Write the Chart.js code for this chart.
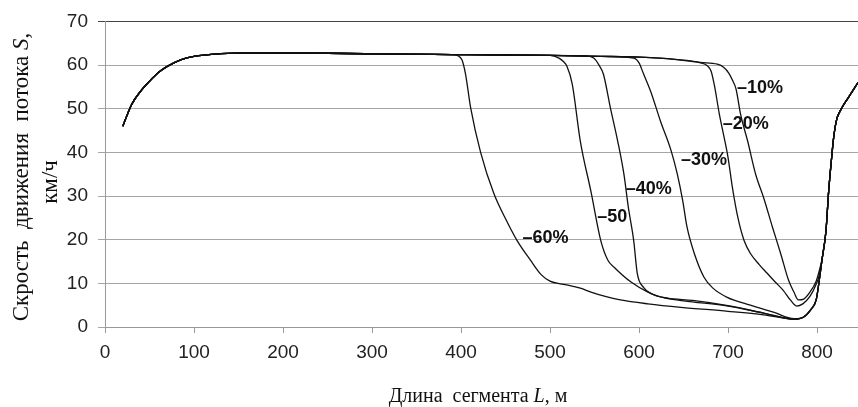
<!DOCTYPE html>
<html>
<head>
  <meta charset="utf-8">
  <title>Скорость движения потока</title>
  <style>
    body { margin: 0; background: #fff; }
    canvas { display: block; }
  </style>
</head>
<body>
  <canvas id="speedChart" width="858" height="407"></canvas>

  <script src="https://cdn.jsdelivr.net/npm/chart.js"></script>
  <script>
    // общий начальный участок (все кривые совпадают)
    const baseL = [20, 30, 40, 50, 60, 70, 85, 100, 130, 170, 250, 330, 390];
    const baseS = [46, 51, 54, 56.3, 58.3, 59.7, 61.2, 62, 62.6, 62.8, 62.7, 62.5, 62.4];

    // общий участок разгона в конце сегмента
    const endL = [806, 810, 813, 816, 819, 822, 826, 835, 846];
    const endS = [16, 22, 31, 38, 44, 47.5, 49.5, 52.5, 56];

    const l60 = [396, 401, 405, 411, 422, 437, 452, 463, 478, 490, 500, 520, 534, 546, 562, 579, 610, 647, 700, 740, 774, 785, 793, 799, 802];
    const s60 = [62.2, 61.2, 58, 50, 40, 30.5, 24, 19.8, 15.3, 12, 10.5, 9.6, 8.9, 8, 7, 6.2, 5.3, 4.5, 3.6, 2.8, 1.8, 2.3, 4, 6.2, 10];

    const l50 = [450, 500, 510, 515, 519, 525, 534, 546, 557, 565, 572, 591, 610, 624, 650, 700, 740, 774, 785, 793, 799, 802];
    const s50 = [62.3, 62.2, 61.6, 60.8, 59.7, 55.6, 42.6, 31, 19.8, 15.3, 13.7, 10.3, 8, 6.9, 6, 4.8, 3.2, 1.8, 2.3, 4, 6.2, 10];

    const l40 = [450, 500, 538, 549, 555, 560, 568, 576, 583, 588, 594, 598, 605, 615, 632, 660, 700, 740, 774, 785, 793, 799, 802];
    const s40 = [62.3, 62.2, 62.1, 61.6, 60, 57.9, 50, 42.6, 35, 27.4, 19.8, 12.3, 9.1, 7.5, 6.6, 6.1, 4.9, 3.2, 1.8, 2.3, 4, 6.2, 10];

    const l30 = [450, 500, 557, 594, 600, 605, 613, 624, 636, 643, 649, 654, 662, 673, 683, 699, 725, 751, 774, 785, 793, 799, 802];
    const s30 = [62.3, 62.2, 62, 61.6, 60.5, 58, 54, 47.2, 40.4, 35, 29, 22.8, 16.9, 11.4, 8.9, 6.8, 5, 3.4, 1.9, 2.3, 4, 6.2, 10];

    const l20 = [450, 500, 557, 602, 640, 669, 677, 681, 685, 690, 695, 700, 705, 711, 718, 725, 735, 744, 753, 762, 770, 777, 784, 792, 799, 802];
    const s20 = [62.3, 62.2, 62, 61.8, 61.3, 60.5, 59.8, 58.6, 55, 49, 44, 38.8, 31.8, 25.1, 19.8, 16.9, 14.3, 12.3, 10.3, 8.4, 6.2, 4.8, 5.3, 7, 9.8, 11.5];

    const l10 = [450, 500, 557, 602, 640, 669, 688, 695, 701, 705, 709, 714, 722, 731, 740, 750, 759, 768, 774, 779, 785, 792, 799, 802];
    const s10 = [62.3, 62.2, 62, 61.8, 61.3, 60.6, 60.2, 59.5, 58.1, 56.5, 54.5, 48.8, 42.6, 35, 29.6, 22.8, 16.9, 10.7, 8, 6.2, 6.4, 8, 10.5, 12.5];

    // подписи кривых: текст и точка привязки (левый край, середина строки)
    const tagText = ['–10%', '–20%', '–30%', '–40%', '–50', '–60%'];
    const tagL = [710, 694, 647, 585, 553, 469];
    const tagS = [54.7, 46.5, 38.3, 31.5, 25.1, 20.3];

    function toPoints(ls, ss) {
      const xs = baseL.concat(ls, endL);
      const ys = baseS.concat(ss, endS);
      return xs.map((x, i) => ({ x: x, y: ys[i] }));
    }

    const series = [[l10, s10], [l20, s20], [l30, s30], [l40, s40], [l50, s50], [l60, s60]];
    const datasets = series.map((s, i) => ({
      label: tagText[i],
      data: toPoints(s[0], s[1]),
      borderColor: '#111',
      borderWidth: 1.3,
      pointRadius: 0,
      cubicInterpolationMode: 'monotone',
      fill: false
    }));

    const tickFont = { family: "'Liberation Sans Narrow', 'Arial Narrow', 'Liberation Sans', sans-serif", size: 19 };

    const textPlugin = {
      id: 'texts',
      afterDraw(chart) {
        const c = chart.ctx;
        const xs = chart.scales.x, ys = chart.scales.y;
        c.save();
        c.fillStyle = '#111';

        // подписи кривых
        c.font = "bold 18px 'Liberation Sans', Arial, sans-serif";
        c.textAlign = 'left';
        c.textBaseline = 'middle';
        tagText.forEach((t, i) => {
          c.fillText(t, xs.getPixelForValue(tagL[i]), ys.getPixelForValue(tagS[i]));
        });

        // подпись оси X
        const serif = "'Liberation Serif', 'Times New Roman', serif";
        c.textBaseline = 'alphabetic';
        drawRich(c, [['Длина  сегмента ', ''], ['L', 'italic '], [', м', '']], 478, 402, 20, serif);

        // подпись оси Y
        c.translate(22, 177);
        c.rotate(-Math.PI / 2);
        c.textBaseline = 'middle';
        drawRich(c, [['Скрость  движения  потока ', ''], ['S', 'italic '], [',', '']], 0, 0, 23, serif);
        c.restore();

        c.save();
        c.fillStyle = '#111';
        c.translate(51, 182);
        c.rotate(-Math.PI / 2);
        c.textBaseline = 'middle';
        drawRich(c, [['км/ч', '']], 0, 0, 23, serif);
        c.restore();
      }
    };

    // текст из кусков с разным начертанием, по центру
    function drawRich(c, parts, cx, y, size, family) {
      let total = 0;
      parts.forEach(p => { c.font = p[1] + size + 'px ' + family; total += c.measureText(p[0]).width; });
      let x = cx - total / 2;
      c.textAlign = 'left';
      parts.forEach(p => {
        c.font = p[1] + size + 'px ' + family;
        c.fillText(p[0], x, y);
        x += c.measureText(p[0]).width;
      });
    }

    new Chart(document.getElementById('speedChart').getContext('2d'), {
      type: 'line',
      data: { datasets: datasets },
      options: {
        responsive: false,
        animation: false,
        layout: { padding: { top: 20, right: 0, bottom: 0, left: 0 } },
        plugins: { legend: { display: false }, tooltip: { enabled: false } },
        scales: {
          x: {
            type: 'linear',
            min: 0,
            max: 846,
            afterFit: s => { s.height = 80; },
            afterBuildTicks: s => { s.ticks = s.ticks.filter(t => t.value <= 800); },
            ticks: { stepSize: 100, includeBounds: false, font: tickFont, color: '#222', padding: 8, maxRotation: 0 },
            grid: { drawOnChartArea: false, drawTicks: true, tickLength: 6, color: '#999' },
            border: { color: '#999' }
          },
          y: {
            min: 0,
            max: 70,
            afterFit: s => { s.width = 105; },
            ticks: { stepSize: 10, font: tickFont, color: '#222', padding: 10 },
            grid: {
              color: ctx => ctx.tick && ctx.tick.value === 70 ? '#444' : '#a6a6a6',
              tickLength: 7
            },
            border: { color: '#999' }
          }
        }
      },
      plugins: [textPlugin]
    });
  </script>
</body>
</html>
